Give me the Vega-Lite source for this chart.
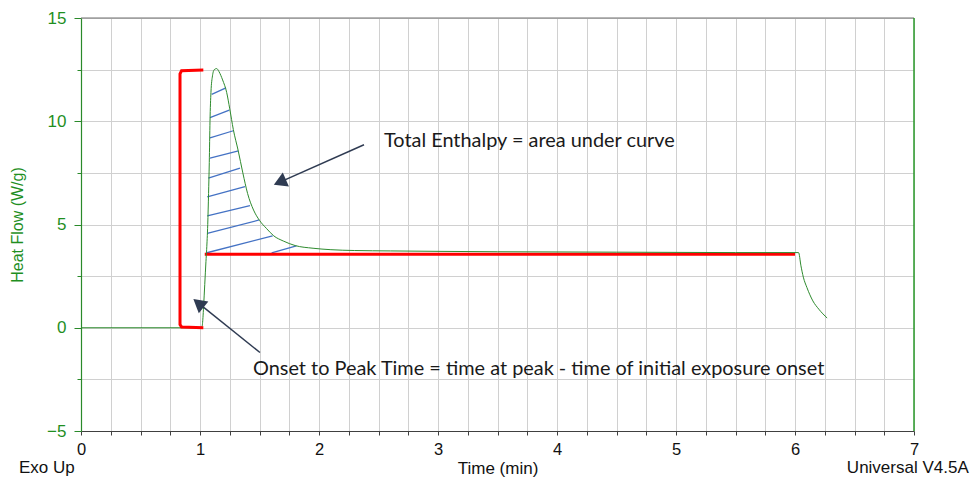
{
  "$schema": "https://vega.github.io/schema/vega-lite/v6.json",
  "width": 833,
  "height": 413,
  "autosize": "none",
  "padding": {"left": 81, "top": 18, "right": 61, "bottom": 47},
  "background": "white",
  "config": {
    "view": {"stroke": null},
    "axis": {"labelFont": "Liberation Sans", "titleFont": "Liberation Sans", "titleFontWeight": "normal", "gridColor": "#d0d0d0", "gridWidth": 1, "gridOpacity": 1}
  },
  "datasets": {
    "curve": [
      {"i": 0, "x": 0, "y": 0}, {"i": 1, "x": 1.0, "y": 0}, {"i": 2, "x": 1.017, "y": 0.05},
      {"i": 3, "x": 1.025, "y": 0.5}, {"i": 4, "x": 1.03, "y": 1.0}, {"i": 5, "x": 1.04, "y": 2.1},
      {"i": 6, "x": 1.05, "y": 3.2}, {"i": 7, "x": 1.056, "y": 3.8}, {"i": 8, "x": 1.065, "y": 5.0},
      {"i": 9, "x": 1.072, "y": 6.5}, {"i": 10, "x": 1.078, "y": 8.0}, {"i": 11, "x": 1.084, "y": 10.0},
      {"i": 12, "x": 1.092, "y": 11.4}, {"i": 13, "x": 1.105, "y": 12.2}, {"i": 14, "x": 1.12, "y": 12.5},
      {"i": 15, "x": 1.14, "y": 12.55}, {"i": 16, "x": 1.16, "y": 12.4}, {"i": 17, "x": 1.19, "y": 12.0},
      {"i": 18, "x": 1.224, "y": 11.4}, {"i": 19, "x": 1.25, "y": 10.6}, {"i": 20, "x": 1.28, "y": 9.6},
      {"i": 21, "x": 1.32, "y": 8.6}, {"i": 22, "x": 1.36, "y": 7.5}, {"i": 23, "x": 1.4, "y": 6.5},
      {"i": 24, "x": 1.45, "y": 5.7}, {"i": 25, "x": 1.5, "y": 5.2}, {"i": 26, "x": 1.56, "y": 4.8},
      {"i": 27, "x": 1.62, "y": 4.45}, {"i": 28, "x": 1.7, "y": 4.2}, {"i": 29, "x": 1.8, "y": 3.98},
      {"i": 30, "x": 1.95, "y": 3.85}, {"i": 31, "x": 2.1, "y": 3.78}, {"i": 32, "x": 2.3, "y": 3.74},
      {"i": 33, "x": 2.6, "y": 3.72}, {"i": 34, "x": 3.0, "y": 3.7}, {"i": 35, "x": 3.5, "y": 3.68},
      {"i": 36, "x": 4.0, "y": 3.67}, {"i": 37, "x": 4.5, "y": 3.66}, {"i": 38, "x": 5.0, "y": 3.65},
      {"i": 39, "x": 5.5, "y": 3.64}, {"i": 40, "x": 6.0, "y": 3.64}, {"i": 41, "x": 6.03, "y": 3.64},
      {"i": 42, "x": 6.05, "y": 3.0}, {"i": 43, "x": 6.07, "y": 2.45}, {"i": 44, "x": 6.1, "y": 1.95},
      {"i": 45, "x": 6.15, "y": 1.3}, {"i": 46, "x": 6.2, "y": 0.9}, {"i": 47, "x": 6.27, "y": 0.47}
    ],
    "bracket": [
      {"i": 0, "x": 1.028, "y": 12.48}, {"i": 1, "x": 0.845, "y": 12.45}, {"i": 2, "x": 0.832, "y": 12.3},
      {"i": 3, "x": 0.832, "y": 0.15}, {"i": 4, "x": 0.845, "y": 0.04}, {"i": 5, "x": 1.028, "y": 0.0}
    ],
    "hatch": [
      {"x": 1.098, "y": 11.3, "x2": 1.218, "y2": 11.62},
      {"x": 1.084, "y": 10.18, "x2": 1.246, "y2": 10.54},
      {"x": 1.084, "y": 9.19, "x2": 1.28, "y2": 9.54},
      {"x": 1.084, "y": 8.22, "x2": 1.323, "y2": 8.57},
      {"x": 1.07, "y": 7.25, "x2": 1.336, "y2": 7.73},
      {"x": 1.061, "y": 6.34, "x2": 1.378, "y2": 6.83},
      {"x": 1.061, "y": 5.42, "x2": 1.42, "y2": 5.91},
      {"x": 1.061, "y": 4.57, "x2": 1.498, "y2": 5.22},
      {"x": 1.05, "y": 3.62, "x2": 1.61, "y2": 4.45},
      {"x": 1.602, "y": 3.62, "x2": 1.81, "y2": 3.97}
    ]
  },
  "encoding": {
    "x": {"field": "x", "type": "quantitative",
      "scale": {"domain": [0, 7], "nice": false, "zero": false},
      "axis": {"values": [0,0.25,0.5,0.75,1,1.25,1.5,1.75,2,2.25,2.5,2.75,3,3.25,3.5,3.75,4,4.25,4.5,4.75,5,5.25,5.5,5.75,6,6.25,6.5,6.75,7],
        "labelExpr": "datum.value % 1 === 0 ? format(datum.value, 'd') : ''",
        "title": "Time (min)", "titleFontSize": 17, "titleColor": "#111111", "titleY": 42, "titleBaseline": "alphabetic",
        "labelFontSize": 16.5, "labelColor": "#111111", "labelPadding": 6, "labelFlush": false,
        "domainColor": "#404040", "domainWidth": 1, "tickColor": "#404040", "tickSize": 4, "grid": true}},
    "y": {"field": "y", "type": "quantitative",
      "scale": {"domain": [-5, 15], "nice": false, "zero": false},
      "axis": {"values": [-5,-2.5,0,2.5,5,7.5,10,12.5,15],
        "labelExpr": "datum.value % 5 === 0 ? format(datum.value, 'd') : ''",
        "title": "Heat Flow (W/g)", "titleFontSize": 16, "titleColor": "#1f8f1f", "titleX": -64, "titleY": 206.5, "titleBaseline": "middle", "titleAngle": -90,
        "labelFontSize": 17, "labelColor": "#1f8f1f", "labelPadding": 8, "labelFlush": false,
        "domainColor": "#2a8a2a", "domainWidth": 1.2, "tickColor": "#2a8a2a",
        "tickSize": {"condition": {"test": "datum.value % 5 === 0", "value": 7}, "value": 4}, "grid": true}}
  },
  "layer": [
    {"data": {"values": [{"x": 0, "x2": 7, "y": 15}]}, "mark": {"type": "rule", "color": "#707070", "strokeWidth": 1.2}, "encoding": {"x2": {"field": "x2"}}},
    {"data": {"values": [{"x": 7, "y": -5, "y2": 15}]}, "mark": {"type": "rule", "color": "#2a9a2a", "strokeWidth": 1.5}, "encoding": {"y2": {"field": "y2"}}},
    {"data": {"name": "hatch"}, "mark": {"type": "rule", "color": "#4472C4", "strokeWidth": 1.3}, "encoding": {"x2": {"field": "x2"}, "y2": {"field": "y2"}}},
    {"data": {"values": [{"x": 1.04, "x2": 6.0, "y": 3.56}]}, "mark": {"type": "rule", "color": "#ff0000", "strokeWidth": 3}, "encoding": {"x2": {"field": "x2"}}},
    {"data": {"name": "curve"}, "mark": {"type": "line", "color": "#2e8b2e", "strokeWidth": 1, "interpolate": "monotone"}, "encoding": {"order": {"field": "i"}}},
    {"data": {"name": "bracket"}, "mark": {"type": "line", "color": "#ff0000", "strokeWidth": 3}, "encoding": {"order": {"field": "i"}}},
    {"data": {"values": [{"x": 2.378, "y": 8.86, "x2": 1.671, "y2": 7.05}, {"x": 1.504, "y": -1.2, "x2": 0.987, "y2": 1.19}]}, "mark": {"type": "rule", "color": "#2f3b52", "strokeWidth": 1.5}, "encoding": {"x2": {"field": "x2"}, "y2": {"field": "y2"}}},
    {"data": {"values": [{"x": 1.671, "y": 7.05}]}, "mark": {"type": "point", "shape": "triangle-up", "filled": true, "color": "#2f3b52", "opacity": 1, "size": 230, "angle": 246}},
    {"data": {"values": [{"x": 0.987, "y": 1.19}]}, "mark": {"type": "point", "shape": "triangle-up", "filled": true, "color": "#2f3b52", "opacity": 1, "size": 230, "angle": 309}},
    {"data": {"values": [{"x": 2.546, "y": 9.02, "label": "Total Enthalpy = area under curve"}, {"x": 1.445, "y": -1.99, "label": "Onset to Peak Time = time at peak - time of initial exposure onset"}]},
      "mark": {"type": "text", "font": "Lato", "fontSize": 19.9, "align": "left", "baseline": "middle", "color": "#1a1a1a"}, "encoding": {"text": {"field": "label"}}},
    {"data": {"values": [{"x": -0.521, "y": -7.04, "label": "Exo Up"}]}, "mark": {"type": "text", "font": "Liberation Sans", "fontSize": 17, "align": "left", "baseline": "alphabetic", "color": "#111111"}, "encoding": {"text": {"field": "label"}}},
    {"data": {"values": [{"x": 7.46, "y": -7.04, "label": "Universal V4.5A"}]}, "mark": {"type": "text", "font": "Liberation Sans", "fontSize": 17, "align": "right", "baseline": "alphabetic", "color": "#111111"}, "encoding": {"text": {"field": "label"}}}
  ]
}
